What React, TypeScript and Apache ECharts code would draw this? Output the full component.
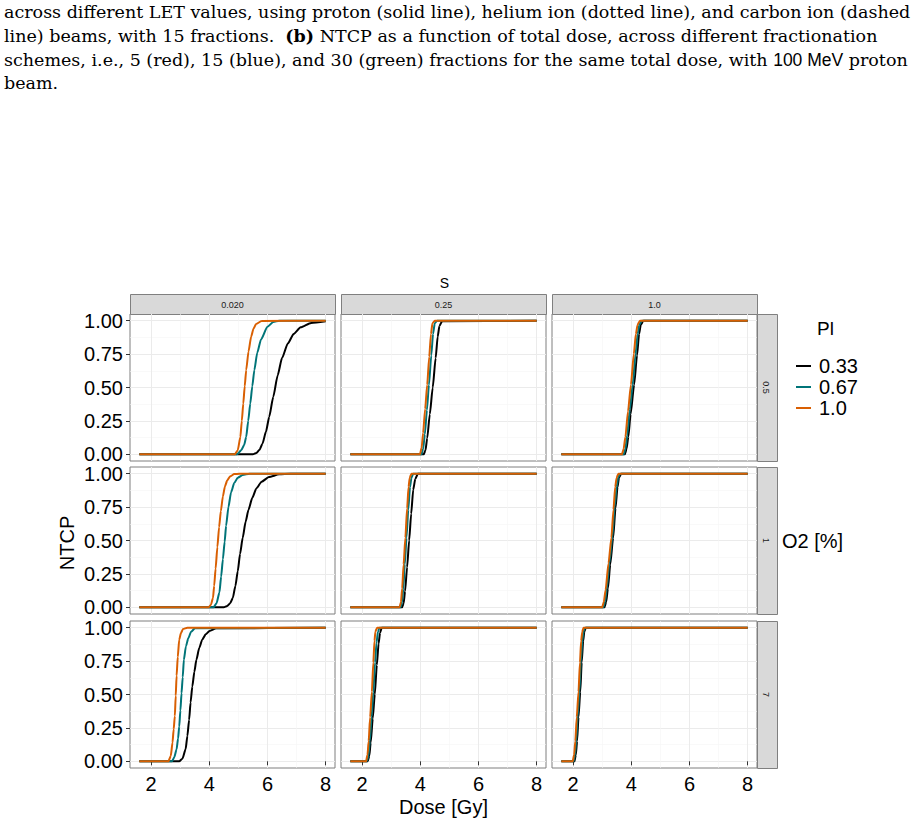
import React, { useEffect, useRef } from "react";
import * as echarts from "echarts";

// ---------- data ----------
const sLevels = ["0.020", "0.25", "1.0"];
const o2Levels = ["0.5", "1", "7"];
const plLevels = ["0.33", "0.67", "1.0"];
const plColors = ["#000000", "#007478", "#D95F02"];
const xMajorTicks = [2, 4, 6, 8];
const xMinorTicks = [3, 5, 7];
const yMajorTicks = [0, 0.25, 0.5, 0.75, 1];
const yMinorTicks = [0.125, 0.375, 0.625, 0.875];
const yTickLabels = ["0.00", "0.25", "0.50", "0.75", "1.00"];

const captionLines = [
  "across different LET values, using proton (solid line), helium ion (dotted line), and carbon ion (dashed",
  "line) beams, with 15 fractions.  {b|(b)} NTCP as a function of total dose, across different fractionation",
  "schemes, i.e., 5 (red), 15 (blue), and 30 (green) fractions for the same total dose, with {s|100 MeV} proton",
  "beam.",
];

// S = 0.020, O2 = 0.5
const s0020_o05_pl033 = [[1.6, 0], [5.5, 0], [5.62, 0.01], [5.73, 0.035], [5.83, 0.08], [5.95, 0.17], [6.06, 0.28], [6.2, 0.43], [6.35, 0.59], [6.5, 0.72], [6.7, 0.83], [6.9, 0.9], [7.14, 0.95], [7.5, 0.983], [8.0, 0.995]];
const s0020_o05_pl067 = [[1.6, 0], [4.95, 0], [5.1, 0.03], [5.2, 0.07], [5.27, 0.13], [5.34, 0.25], [5.41, 0.38], [5.48, 0.51], [5.55, 0.63], [5.65, 0.76], [5.78, 0.86], [6.0, 0.955], [6.2, 0.99], [6.4, 1], [8.0, 1]];
const s0020_o05_pl100 = [[1.6, 0], [4.88, 0], [4.98, 0.03], [5.07, 0.13], [5.12, 0.25], [5.17, 0.38], [5.22, 0.51], [5.27, 0.63], [5.35, 0.77], [5.44, 0.88], [5.52, 0.94], [5.61, 0.975], [5.8, 0.998], [8.0, 1]];
// S = 0.25, O2 = 0.5
const s025_o05_pl033 = [[1.6, 0], [4.12, 0], [4.18, 0.03], [4.24, 0.12], [4.33, 0.3], [4.43, 0.5], [4.53, 0.72], [4.6, 0.88], [4.66, 0.96], [4.75, 0.995], [8.0, 1]];
const s025_o05_pl067 = [[1.6, 0], [4.04, 0], [4.1, 0.04], [4.16, 0.15], [4.23, 0.33], [4.3, 0.52], [4.38, 0.74], [4.44, 0.9], [4.5, 0.98], [4.58, 1], [8.0, 1]];
const s025_o05_pl100 = [[1.6, 0], [3.99, 0], [4.05, 0.05], [4.1, 0.16], [4.17, 0.34], [4.24, 0.52], [4.31, 0.73], [4.37, 0.9], [4.42, 0.98], [4.5, 1], [8.0, 1]];
// S = 1.0, O2 = 0.5
const s10_o05_pl033 = [[1.6, 0], [3.78, 0], [3.84, 0.04], [3.9, 0.13], [3.98, 0.3], [4.1, 0.52], [4.2, 0.74], [4.27, 0.9], [4.33, 0.97], [4.42, 1], [8.0, 1]];
const s10_o05_pl067 = [[1.6, 0], [3.74, 0], [3.8, 0.04], [3.86, 0.14], [3.95, 0.33], [4.05, 0.52], [4.15, 0.75], [4.22, 0.9], [4.28, 0.97], [4.36, 1], [8.0, 1]];
const s10_o05_pl100 = [[1.6, 0], [3.68, 0], [3.74, 0.04], [3.8, 0.13], [3.89, 0.32], [3.99, 0.52], [4.09, 0.75], [4.16, 0.9], [4.22, 0.97], [4.3, 1], [8.0, 1]];
// S = 0.020, O2 = 1
const s0020_o1_pl033 = [[1.6, 0], [4.5, 0], [4.62, 0.01], [4.72, 0.03], [4.81, 0.07], [4.9, 0.16], [4.98, 0.27], [5.06, 0.4], [5.15, 0.52], [5.25, 0.64], [5.35, 0.73], [5.48, 0.82], [5.62, 0.89], [5.8, 0.94], [6.05, 0.975], [6.4, 0.995], [6.8, 1], [8.0, 1]];
const s0020_o1_pl067 = [[1.6, 0], [4.15, 0], [4.25, 0.03], [4.35, 0.11], [4.41, 0.23], [4.47, 0.36], [4.53, 0.49], [4.58, 0.61], [4.66, 0.75], [4.75, 0.86], [4.86, 0.93], [4.98, 0.97], [5.15, 0.99], [5.38, 1], [8.0, 1]];
const s0020_o1_pl100 = [[1.6, 0], [3.98, 0], [4.06, 0.02], [4.13, 0.07], [4.17, 0.16], [4.22, 0.29], [4.28, 0.45], [4.34, 0.6], [4.4, 0.72], [4.47, 0.83], [4.54, 0.905], [4.62, 0.95], [4.72, 0.98], [4.86, 0.997], [5.04, 1], [8.0, 1]];
// S = 0.25, O2 = 1
const s025_o1_pl033 = [[1.6, 0], [3.38, 0], [3.43, 0.03], [3.48, 0.12], [3.55, 0.3], [3.62, 0.5], [3.69, 0.7], [3.76, 0.88], [3.83, 0.96], [3.92, 1], [8.0, 1]];
const s025_o1_pl067 = [[1.6, 0], [3.33, 0], [3.38, 0.04], [3.42, 0.14], [3.47, 0.32], [3.53, 0.52], [3.59, 0.73], [3.65, 0.9], [3.7, 0.97], [3.76, 1], [8.0, 1]];
const s025_o1_pl100 = [[1.6, 0], [3.29, 0], [3.34, 0.04], [3.38, 0.14], [3.43, 0.32], [3.49, 0.52], [3.55, 0.74], [3.6, 0.9], [3.64, 0.97], [3.7, 1], [8.0, 1]];
// S = 1.0, O2 = 1
const s10_o1_pl033 = [[1.6, 0], [3.08, 0], [3.14, 0.04], [3.2, 0.14], [3.28, 0.32], [3.38, 0.52], [3.46, 0.74], [3.53, 0.9], [3.58, 0.97], [3.66, 1], [8.0, 1]];
const s10_o1_pl067 = [[1.6, 0], [3.04, 0], [3.1, 0.04], [3.16, 0.14], [3.25, 0.33], [3.35, 0.52], [3.43, 0.75], [3.5, 0.9], [3.55, 0.97], [3.62, 1], [8.0, 1]];
const s10_o1_pl100 = [[1.6, 0], [3.0, 0], [3.06, 0.04], [3.12, 0.13], [3.22, 0.33], [3.32, 0.52], [3.39, 0.73], [3.45, 0.9], [3.5, 0.97], [3.56, 1], [8.0, 1]];
// S = 0.020, O2 = 7
const s0020_o7_pl033 = [[1.6, 0], [2.97, 0], [3.08, 0.02], [3.19, 0.09], [3.25, 0.19], [3.31, 0.31], [3.36, 0.44], [3.42, 0.56], [3.49, 0.67], [3.56, 0.76], [3.66, 0.85], [3.76, 0.91], [3.88, 0.95], [4.01, 0.975], [4.24, 0.995], [8.0, 1]];
const s0020_o7_pl067 = [[1.6, 0], [2.72, 0], [2.8, 0.03], [2.88, 0.09], [2.93, 0.17], [2.97, 0.26], [3.01, 0.38], [3.05, 0.51], [3.09, 0.63], [3.13, 0.76], [3.2, 0.86], [3.28, 0.92], [3.38, 0.97], [3.51, 0.995], [8.0, 1]];
const s0020_o7_pl100 = [[1.6, 0], [2.6, 0], [2.68, 0.04], [2.74, 0.14], [2.78, 0.24], [2.82, 0.34], [2.85, 0.49], [2.88, 0.64], [2.92, 0.78], [2.97, 0.91], [3.03, 0.96], [3.1, 0.99], [3.25, 1], [8.0, 1]];
// S = 0.25, O2 = 7
const s025_o7_pl033 = [[1.6, 0], [2.2, 0], [2.25, 0.04], [2.3, 0.14], [2.37, 0.32], [2.44, 0.5], [2.51, 0.72], [2.57, 0.88], [2.62, 0.96], [2.68, 1], [8.0, 1]];
const s025_o7_pl067 = [[1.6, 0], [2.17, 0], [2.22, 0.04], [2.27, 0.15], [2.33, 0.33], [2.39, 0.52], [2.45, 0.74], [2.5, 0.89], [2.55, 0.97], [2.6, 1], [8.0, 1]];
const s025_o7_pl100 = [[1.6, 0], [2.14, 0], [2.19, 0.05], [2.23, 0.15], [2.28, 0.33], [2.34, 0.52], [2.39, 0.74], [2.43, 0.9], [2.46, 0.97], [2.52, 1], [8.0, 1]];
// S = 1.0, O2 = 7
const s10_o7_pl033 = [[1.6, 0], [2.05, 0], [2.1, 0.05], [2.14, 0.15], [2.19, 0.33], [2.25, 0.52], [2.3, 0.74], [2.35, 0.9], [2.39, 0.97], [2.44, 1], [8.0, 1]];
const s10_o7_pl067 = [[1.6, 0], [2.02, 0], [2.07, 0.05], [2.11, 0.15], [2.16, 0.33], [2.22, 0.52], [2.27, 0.74], [2.32, 0.9], [2.36, 0.97], [2.41, 1], [8.0, 1]];
const s10_o7_pl100 = [[1.6, 0], [1.99, 0], [2.04, 0.05], [2.08, 0.15], [2.13, 0.33], [2.19, 0.52], [2.24, 0.74], [2.28, 0.9], [2.32, 0.97], [2.36, 1], [8.0, 1]];

// panels in row-major order: row = O2 level, column = S level
const panelCurves = [
  [s0020_o05_pl033, s0020_o05_pl067, s0020_o05_pl100],
  [s025_o05_pl033, s025_o05_pl067, s025_o05_pl100],
  [s10_o05_pl033, s10_o05_pl067, s10_o05_pl100],
  [s0020_o1_pl033, s0020_o1_pl067, s0020_o1_pl100],
  [s025_o1_pl033, s025_o1_pl067, s025_o1_pl100],
  [s10_o1_pl033, s10_o1_pl067, s10_o1_pl100],
  [s0020_o7_pl033, s0020_o7_pl067, s0020_o7_pl100],
  [s025_o7_pl033, s025_o7_pl067, s025_o7_pl100],
  [s10_o7_pl033, s10_o7_pl067, s10_o7_pl100],
];

// ---------- layout ----------
const SANS = "'Liberation Sans', Arial, sans-serif";
const SERIF = "'DejaVu Serif', 'Liberation Serif', serif";
const PANEL_LEFT = [130, 341, 552];
const PANEL_TOP = [314, 467, 621];
const PANEL_W = 205;
const PANEL_H = 147;
const STRIP_TOP = 294;
const STRIP_H = 20;
const STRIP_W = 20;

function buildOption() {
  let allX: number[] = [];
  panelCurves.forEach((p) => p.forEach((c) => c.forEach((pt) => allX.push(pt[0]))));
  const dMin = Math.min(...allX);
  const dMax = Math.max(...allX);
  const pad = (dMax - dMin) * 0.05;
  const xMin = dMin - pad;
  const xMax = dMax + pad;
  const yMin = -0.05;
  const yMax = 1.05;

  const grids: any[] = [];
  const xAxes: any[] = [];
  const yAxes: any[] = [];
  const series: any[] = [];

  for (let r = 0; r < 3; r++) {
    for (let c = 0; c < 3; c++) {
      const p = r * 3 + c;
      grids.push({
        left: PANEL_LEFT[c],
        top: PANEL_TOP[r],
        width: PANEL_W,
        height: PANEL_H,
        show: true,
        backgroundColor: "#FFFFFF",
        borderColor: "#7F7F7F",
        borderWidth: 1,
      });
      xAxes.push({
        type: "value",
        gridIndex: p,
        min: xMin,
        max: xMax,
        position: "bottom",
        axisLine: { show: false },
        axisTick: { show: r === 2, customValues: xMajorTicks, length: 4, lineStyle: { color: "#333333", width: 1 } },
        axisLabel: { show: r === 2, customValues: xMajorTicks, fontSize: 20, color: "#000000", fontFamily: SANS, margin: 6 },
        splitLine: { show: true, lineStyle: { color: "#EBEBEB", width: 1 } },
      });
      xAxes.push({
        type: "value",
        gridIndex: p,
        min: xMin,
        max: xMax,
        position: "top",
        axisLine: { show: false },
        axisTick: { show: false, customValues: xMinorTicks },
        axisLabel: { show: false, customValues: xMinorTicks },
        splitLine: { show: true, lineStyle: { color: "#F5F5F5", width: 0.6 } },
      });
      yAxes.push({
        type: "value",
        gridIndex: p,
        min: yMin,
        max: yMax,
        position: "left",
        axisLine: { show: false },
        axisTick: { show: c === 0, customValues: yMajorTicks, length: 4, lineStyle: { color: "#333333", width: 1 } },
        axisLabel: {
          show: c === 0,
          customValues: yMajorTicks,
          fontSize: 20,
          lineHeight: 16,
          color: "#000000",
          fontFamily: SANS,
          margin: 7,
          formatter: (v: number) => {
            const i = yMajorTicks.findIndex((t) => Math.abs(t - v) < 1e-9);
            return i >= 0 ? yTickLabels[i] : "";
          },
        },
        splitLine: { show: true, lineStyle: { color: "#EBEBEB", width: 1 } },
      });
      yAxes.push({
        type: "value",
        gridIndex: p,
        min: yMin,
        max: yMax,
        position: "right",
        axisLine: { show: false },
        axisTick: { show: false, customValues: yMinorTicks },
        axisLabel: { show: false, customValues: yMinorTicks },
        splitLine: { show: true, lineStyle: { color: "#F5F5F5", width: 0.6 } },
      });
      panelCurves[p].forEach((curve, k) => {
        series.push({
          type: "line",
          name: plLevels[k],
          xAxisIndex: 2 * p,
          yAxisIndex: 2 * p,
          data: curve,
          symbol: "none",
          showSymbol: false,
          smooth: 0.2,
          smoothMonotone: "x",
          silent: true,
          z: 2 + k,
          lineStyle: { color: plColors[k], width: 2 },
          itemStyle: { color: plColors[k] },
        });
      });
    }
  }

  const graphics: any[] = [];
  // caption
  const capY = [12, 36, 59.5, 83];
  captionLines.forEach((t, i) => {
    graphics.push({
      type: "text",
      x: 4,
      y: capY[i],
      style: {
        text: t,
        fontSize: 17.5,
        fontFamily: SERIF,
        fill: "#000000",
        verticalAlign: "middle",
        align: "left",
        rich: {
          b: { fontSize: 17.5, fontFamily: SERIF, fontWeight: "bold", fill: "#000000" },
          s: { fontSize: 17.5, fontFamily: SANS, fill: "#000000" },
        },
      },
    });
  });
  // top strips
  sLevels.forEach((s, c) => {
    graphics.push({
      type: "rect",
      shape: { x: PANEL_LEFT[c] + 0.5, y: STRIP_TOP + 0.5, width: PANEL_W, height: STRIP_H },
      style: { fill: "#D9D9D9", stroke: "#7F7F7F", lineWidth: 1 },
    });
    graphics.push({
      type: "text",
      x: PANEL_LEFT[c] + PANEL_W / 2,
      y: STRIP_TOP + STRIP_H / 2 + 1,
      style: { text: s, fontSize: 9, fontFamily: SANS, fill: "#1A1A1A", align: "center", verticalAlign: "middle" },
    });
  });
  // right strips
  o2Levels.forEach((o, r) => {
    const x0 = PANEL_LEFT[2] + PANEL_W;
    graphics.push({
      type: "rect",
      shape: { x: x0 + 0.5, y: PANEL_TOP[r] + 0.5, width: STRIP_W, height: PANEL_H },
      style: { fill: "#D9D9D9", stroke: "#7F7F7F", lineWidth: 1 },
    });
    graphics.push({
      type: "text",
      x: x0 + STRIP_W / 2 - 1,
      y: PANEL_TOP[r] + PANEL_H / 2,
      rotation: -Math.PI / 2,
      style: { text: o, fontSize: 9, fontFamily: SANS, fill: "#1A1A1A", align: "center", verticalAlign: "middle" },
    });
  });
  const gridMidX = (PANEL_LEFT[0] + PANEL_LEFT[2] + PANEL_W) / 2;
  const gridMidY = (PANEL_TOP[0] + PANEL_TOP[2] + PANEL_H) / 2;
  // facet titles
  graphics.push({
    type: "text",
    x: gridMidX + 1,
    y: 283,
    style: { text: "S", fontSize: 14, fontFamily: SANS, fill: "#000000", align: "center", verticalAlign: "middle" },
  });
  graphics.push({
    type: "text",
    x: 782,
    y: gridMidY,
    style: { text: "O2 [%]", fontSize: 20, fontFamily: SANS, fill: "#000000", align: "left", verticalAlign: "middle" },
  });
  // axis titles
  graphics.push({
    type: "text",
    x: gridMidX,
    y: 807,
    style: { text: "Dose [Gy]", fontSize: 20, fontFamily: SANS, fill: "#000000", align: "center", verticalAlign: "middle" },
  });
  graphics.push({
    type: "text",
    x: 67,
    y: gridMidY + 2,
    rotation: Math.PI / 2,
    style: { text: "NTCP", fontSize: 20, fontFamily: SANS, fill: "#000000", align: "center", verticalAlign: "middle" },
  });
  // legend title
  graphics.push({
    type: "text",
    x: 817,
    y: 328,
    style: { text: "Pl", fontSize: 19, fontFamily: SANS, fill: "#000000", align: "left", verticalAlign: "middle" },
  });

  return {
    animation: false,
    backgroundColor: "#FFFFFF",
    grid: grids,
    xAxis: xAxes,
    yAxis: yAxes,
    series,
    legend: {
      data: plLevels,
      orient: "vertical",
      left: 796,
      top: 356,
      padding: 0,
      icon: "rect",
      itemWidth: 15,
      itemHeight: 2,
      itemGap: 1,
      selectedMode: false,
      textStyle: { fontSize: 20, fontFamily: SANS, color: "#000000", padding: [0, 0, 0, 3] },
    },
    graphic: graphics,
  };
}

export default function App() {
  const ref = useRef<HTMLDivElement>(null);
  useEffect(() => {
    document.body.style.margin = "0";
    if (!ref.current) return;
    const chart = echarts.init(ref.current, undefined, { renderer: "svg" });
    chart.setOption(buildOption() as any);
    return () => chart.dispose();
  }, []);
  return <div ref={ref} style={{ width: 918, height: 827 }} />;
}
